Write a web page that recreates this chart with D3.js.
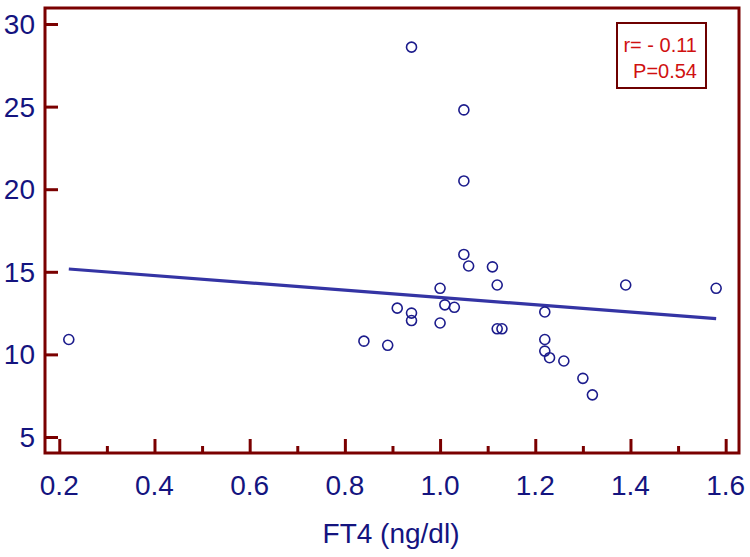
<!DOCTYPE html>
<html>
<head>
<meta charset="utf-8">
<script src="https://cdn.jsdelivr.net/npm/d3@7"></script>
<style>
  html, body { margin: 0; padding: 0; background: #fff; }
  svg { display: block; }
  text { font-family: "Liberation Sans", Arial, sans-serif; }
</style>
</head>
<body>
<script>
// ---- data ----
const ft4 = [0.22, 0.84, 0.89, 0.91, 0.94, 0.94, 0.94, 1.00, 1.00, 1.01, 1.03, 1.05, 1.05, 1.05, 1.06, 1.11, 1.12, 1.12, 1.13, 1.22, 1.22, 1.22, 1.23, 1.26, 1.30, 1.32, 1.39, 1.58];
const yVal = [10.9, 10.8, 10.55, 12.8, 28.6, 12.5, 12.05, 14.0, 11.9, 13.0, 12.85, 24.8, 20.5, 16.05, 15.35, 15.3, 14.2, 11.55, 11.55, 12.57, 10.9, 10.2, 9.8, 9.6, 8.55, 7.55, 14.2, 14.0];
const fitX = [0.22, 1.58];
const fitY = [15.17, 12.16];
const xMajorTicks = [0.2, 0.4, 0.6, 0.8, 1.0, 1.2, 1.4, 1.6];
const xMinorTicks = [0.3, 0.5, 0.7, 0.9, 1.1, 1.3, 1.5];
const yTicks = [5, 10, 15, 20, 25, 30];
const xTitle = "FT4 (ng/dl)";
const statLines = ["r= - 0.11", "P=0.54"];

(function () {
const W = 750, H = 557;
const pL = 45, pR = 739, pT = 8, pB = 453;
const axisColor = "#7a0000";
const labelColor = "#14147f";

const x = d3.scaleLinear().domain([0.17, 1.628]).range([pL, pR]);
const y = d3.scaleLinear().domain([4.03, 30.97]).range([pB, pT]);

const svg = d3.select("body").append("svg").attr("width", W).attr("height", H);
svg.append("rect").attr("width", W).attr("height", H).attr("fill", "#fff");

// frame
svg.append("rect")
  .attr("x", pL).attr("y", pT)
  .attr("width", pR - pL).attr("height", pB - pT)
  .attr("fill", "none").attr("stroke", axisColor).attr("stroke-width", 3);

// x axis (inward ticks)
const xAxis = d3.axisTop(x).tickValues(xMajorTicks).tickSize(14).tickFormat("");
const gx = svg.append("g").attr("transform", `translate(0,${pB})`).call(xAxis);
gx.select(".domain").remove();
gx.selectAll(".tick line").attr("stroke", axisColor).attr("stroke-width", 3);

const xMinor = d3.axisTop(x).tickValues(xMinorTicks).tickSize(7).tickFormat("");
const gxm = svg.append("g").attr("transform", `translate(0,${pB})`).call(xMinor);
gxm.select(".domain").remove();
gxm.selectAll(".tick line").attr("stroke", axisColor).attr("stroke-width", 3);

// x tick labels
svg.append("g").selectAll("text").data(xMajorTicks).join("text")
  .attr("x", d => x(d)).attr("y", 495)
  .attr("text-anchor", "middle")
  .attr("font-size", 28).attr("fill", labelColor)
  .text(d => d3.format(".1f")(d));

// y axis (inward ticks)
const yAxis = d3.axisRight(y).tickValues(yTicks).tickSize(13).tickFormat("");
const gy = svg.append("g").attr("transform", `translate(${pL},0)`).call(yAxis);
gy.select(".domain").remove();
gy.selectAll(".tick line").attr("stroke", axisColor).attr("stroke-width", 3);

svg.append("g").selectAll("text").data(yTicks).join("text")
  .attr("x", 35).attr("y", d => y(d) + 10)
  .attr("text-anchor", "end")
  .attr("font-size", 28).attr("fill", labelColor)
  .text(d => d);

// x title
svg.append("text")
  .attr("x", (pL + pR) / 2 - 1).attr("y", 543)
  .attr("text-anchor", "middle")
  .attr("font-size", 28).attr("fill", labelColor)
  .text(xTitle);

// regression line
const line = d3.line().x(d => x(d[0])).y(d => y(d[1]));
svg.append("path")
  .datum(fitX.map((v, i) => [v, fitY[i]]))
  .attr("d", line)
  .attr("fill", "none").attr("stroke", "#3434a4").attr("stroke-width", 3.2);

// points
svg.append("g").selectAll("circle").data(ft4.map((v, i) => [v, yVal[i]])).join("circle")
  .attr("cx", d => x(d[0])).attr("cy", d => y(d[1]))
  .attr("r", 5)
  .attr("fill", "none").attr("stroke", "#1c1c8c").attr("stroke-width", 1.6);

// stats box
svg.append("rect")
  .attr("x", 617).attr("y", 23).attr("width", 89).attr("height", 65)
  .attr("fill", "#fff").attr("stroke", "#6e0000").attr("stroke-width", 2);
svg.append("g").selectAll("text").data(statLines).join("text")
  .attr("x", 697).attr("y", (d, i) => 52 + i * 26)
  .attr("text-anchor", "end")
  .attr("font-size", 20).attr("fill", "#d01010")
  .text(d => d);
})();
</script>
</body>
</html>
